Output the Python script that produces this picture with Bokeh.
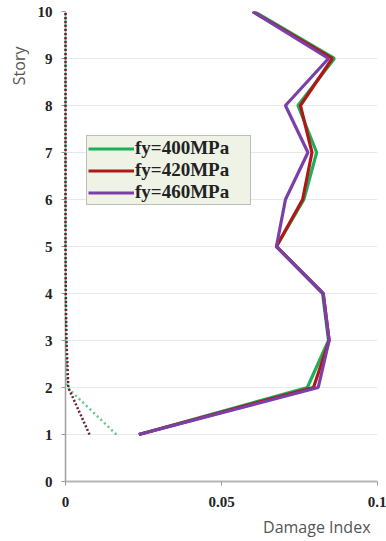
from bokeh.plotting import figure
from bokeh.models import Legend, LegendItem, Title, FixedTicker, Range1d
from bokeh.embed import file_html
from bokeh.resources import INLINE

# Story levels and damage index per yield strength
stories = [1, 2, 3, 4, 5, 6, 7, 8, 9, 10]
di_400 = [0.0235, 0.0775, 0.0843, 0.0824, 0.0676, 0.0764, 0.0805, 0.0745, 0.0862, 0.0605]
di_420 = [0.0235, 0.0795, 0.0845, 0.0826, 0.0676, 0.0760, 0.0790, 0.0753, 0.0855, 0.0600]
di_460 = [0.0235, 0.0810, 0.0845, 0.0826, 0.0676, 0.0705, 0.0777, 0.0705, 0.0843, 0.0600]

# Dotted companion series near zero
dot_a = [0.0163, 0.0006, 0.0002, 0.0, 0.0, 0.0, 0.0, 0.0, 0.0, 0.0]
dot_b = [0.0077, 0.0009, 0.0003, 0.0001, 0.0, 0.0, 0.0, 0.0, 0.0, 0.0]

x_ticks = [0, 0.05, 0.1]
y_ticks = [0, 1, 2, 3, 4, 5, 6, 7, 8, 9, 10]

green = "#1fae5a"
red = "#b01818"
purple = "#7b3fa8"

p = figure(width=386, height=541, output_backend="svg", toolbar_location=None,
           x_range=Range1d(0, 0.1), y_range=Range1d(0, 10),
           min_border_left=65, min_border_right=9, min_border_top=11, min_border_bottom=60)
p.outline_line_color = None
p.background_fill_color = "white"

p.xgrid.grid_line_color = None
p.ygrid.grid_line_color = "#e8e8e8"
p.ygrid.grid_line_width = 1

for ax in (p.xaxis, p.yaxis):
    ax.major_label_text_font = "Liberation Serif"
    ax.major_label_text_font_style = "bold"
    ax.major_label_text_font_size = "15px"
    ax.major_label_text_color = "#222222"
    ax.minor_tick_line_color = None
    ax.major_tick_in = 0
    ax.major_tick_out = 4
    ax.major_tick_line_color = "#999999"

p.xaxis.ticker = FixedTicker(ticks=x_ticks)
p.xaxis.major_label_overrides = {0: "0", 0.05: "0.05", 0.1: "0.1"}
p.yaxis.ticker = FixedTicker(ticks=y_ticks)
p.xaxis.axis_line_color = "#b5b5b5"
p.xaxis.axis_line_width = 2
p.yaxis.axis_line_color = "#a0a0a0"
p.yaxis.axis_line_width = 1.5
p.xaxis.major_label_standoff = 11
p.yaxis.major_label_standoff = 9

# Dotted traces, kept above the axis line so the zero segment stays visible
p.line(dot_a, stories, line_color=green, line_width=2.5, line_dash="2 3", line_alpha=0.7,
       level="overlay")
p.line(dot_b, stories, line_color="#6a2232", line_width=2.5, line_dash="2 2",
       level="overlay")

# Damage index profiles
r400 = p.line(di_400, stories, line_color=green, line_width=3.2)
r420 = p.line(di_420, stories, line_color=red, line_width=3.2)
r460 = p.line(di_460, stories, line_color=purple, line_width=3.2)

legend = Legend(items=[LegendItem(label="fy=400MPa", renderers=[r400]),
                       LegendItem(label="fy=420MPa", renderers=[r420]),
                       LegendItem(label="fy=460MPa", renderers=[r460])],
                location=(21, 276), orientation="vertical")
legend.label_text_font = "Liberation Serif"
legend.label_text_font_style = "bold"
legend.label_text_font_size = "19px"
legend.label_text_color = "#222222"
legend.glyph_width = 46
legend.glyph_height = 21
legend.label_standoff = 1
legend.label_height = 21
legend.label_width = 114
legend.spacing = 0
legend.padding = 1
legend.margin = 0
legend.border_line_color = "#888888"
legend.border_line_width = 1.5
legend.background_fill_color = "#eef3e6"
legend.background_fill_alpha = 1
p.add_layout(legend, "center")

story_title = Title(text="Story", align="right", text_font="Open Sans",
                    text_font_size="16px", text_font_style="normal", text_color="#555555",
                    offset=35)
p.add_layout(story_title, "left")

x_title = Title(text="Damage Index", align="right", text_font="Open Sans",
                text_font_size="16px", text_font_style="normal", text_color="#555555",
                offset=7, standoff=8)
p.add_layout(x_title, "below")

open("out.html", "w").write(file_html(p, INLINE))
